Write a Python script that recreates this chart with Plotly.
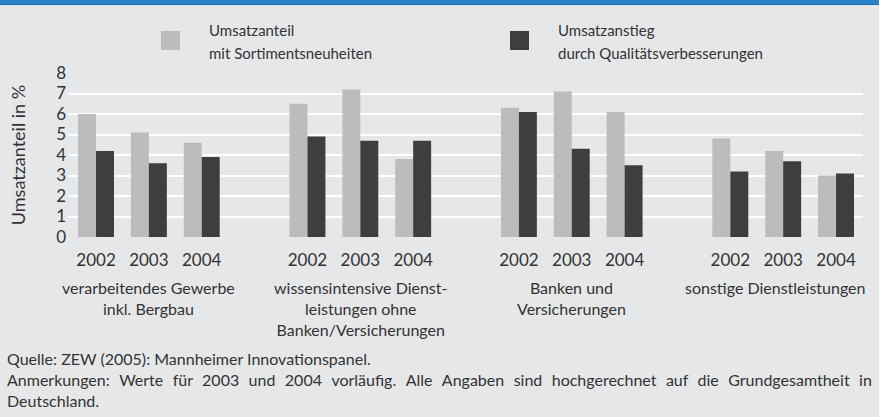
import plotly.graph_objects as go

# Daten
jahre = ["2002", "2003", "2004"]
branchen = [
    "verarbeitendes Gewerbe<br>inkl. Bergbau",
    "wissensintensive Dienst-<br>leistungen ohne<br>Banken/Versicherungen",
    "Banken und<br>Versicherungen",
    "sonstige Dienstleistungen",
]
sortimentsneuheiten = [6.0, 5.1, 4.6, 6.5, 7.2, 3.8, 6.3, 7.1, 6.1, 4.8, 4.2, 3.0]
qualitaetsverbesserungen = [4.2, 3.6, 3.9, 4.9, 4.7, 4.7, 6.1, 4.3, 3.5, 3.2, 3.7, 3.1]
legende_1 = ["Umsatzanteil", "mit Sortimentsneuheiten"]
legende_2 = ["Umsatzanstieg", "durch Qualitätsverbesserungen"]
quelle = "Quelle: ZEW (2005): Mannheimer Innovationspanel."
anmerkung = ("Anmerkungen: Werte für 2003 und 2004 vorläufig. Alle Angaben sind "
             "hochgerechnet auf die Grundgesamtheit in")
anmerkung_2 = "Deutschland."

HELL = "#bbbcbe"
DUNKEL = "#3e3e40"
BG = "#e6e7e9"
TXT = "#333333"
FONT = "Lato"

W, H = 879, 417
L, R, T, B = 68, 16, 73, 180
PH = H - T - B


def py(pix):
    # Pixelzeile -> paper-y
    return (H - B - pix) / PH


def px(pix):
    return (pix - L) / (W - L - R)


# x-Positionen: 3 Jahre je Gruppe, eine Lücke von einer Position zwischen Gruppen
pos = []
for g in range(len(branchen)):
    for j in range(len(jahre)):
        pos.append(g * 4 + j)
ticktext = jahre * len(branchen)

fig = go.Figure()
fig.add_trace(go.Bar(
    x=pos, y=sortimentsneuheiten, width=0.34, offset=-0.34,
    marker=dict(color=HELL, line=dict(width=0)), showlegend=False,
))
fig.add_trace(go.Bar(
    x=pos, y=qualitaetsverbesserungen, width=0.34, offset=0,
    marker=dict(color=DUNKEL, line=dict(width=0)), showlegend=False,
))

annotations = []
for g, name in enumerate(branchen):
    annotations.append(dict(
        x=g * 4 + 1, y=py(276), xref="x", yref="paper", text=name,
        showarrow=False, yanchor="top", xanchor="center",
        xshift=-8 if g == 3 else 0,
        font=dict(family=FONT, size=16, color=TXT),
    ))

# Legende
for lx, texte in [(207, legende_1), (556, legende_2)]:
    for i, t in enumerate(texte):
        annotations.append(dict(
            x=px(lx), y=py(30 + 23 * i), xref="paper", yref="paper", text=t,
            showarrow=False, xanchor="left", yanchor="middle",
            font=dict(family=FONT, size=15, color=TXT),
        ))

# Fußnoten (zweite Zeile im Blocksatz: breitere Wortabstände)
fussnote = "<br>".join([quelle, anmerkung.replace(" ", " \u2004"), anmerkung_2])
annotations.append(dict(
    x=px(5), y=py(379), xref="paper", yref="paper", text=fussnote,
    showarrow=False, xanchor="left", yanchor="middle", align="left",
    font=dict(family=FONT, size=16, color=TXT),
))

shapes = [
    dict(type="rect", xref="paper", yref="paper", x0=px(0), x1=px(W), y0=py(4), y1=py(0),
         fillcolor="#2a83c8", line=dict(width=0), layer="above"),
    dict(type="rect", xref="paper", yref="paper", x0=px(0), x1=px(W), y0=py(5), y1=py(4),
         fillcolor="#1a6fb5", line=dict(width=0), layer="above"),
    dict(type="rect", xref="paper", yref="paper", x0=px(161), x1=px(180), y0=py(50), y1=py(31),
         fillcolor=HELL, line=dict(width=0)),
    dict(type="rect", xref="paper", yref="paper", x0=px(510), x1=px(529), y0=py(50), y1=py(31),
         fillcolor=DUNKEL, line=dict(width=0)),
]

fig.update_layout(
    width=W, height=H,
    margin=dict(l=L, r=R, t=T, b=B, pad=0),
    paper_bgcolor=BG, plot_bgcolor=BG,
    font=dict(family=FONT, size=17, color=TXT),
    barmode="overlay",
    xaxis=dict(
        range=[-0.53, 14.51], tickvals=pos, ticktext=ticktext,
        showgrid=False, zeroline=False, showline=False, ticks="",
        tickfont=dict(size=17), ticklabelstandoff=11, automargin=False,
    ),
    yaxis=dict(
        range=[0, 8], dtick=1, showgrid=True, gridcolor="white", gridwidth=2,
        zeroline=False, showline=False, ticks="",
        tickfont=dict(size=17), ticklabelstandoff=1, automargin=False,
        title=dict(text="Umsatzanteil in %", font=dict(size=18), standoff=25),
    ),
    annotations=annotations,
    shapes=shapes,
)

# Seitenrand des Browsers entfernen, damit die Grafik bündig im Fenster sitzt
fig.write_html("out.html", config={"displayModeBar": False},
               post_script="document.body.style.margin='0';")
